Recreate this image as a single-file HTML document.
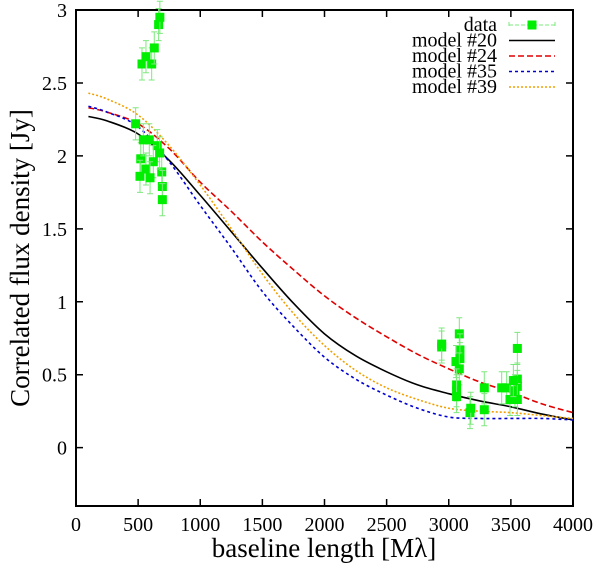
<!DOCTYPE html>
<html><head><meta charset="utf-8"><style>
body{margin:0;background:#fff}
svg text{font-family:"Liberation Serif",serif;fill:#000}
</style></head><body>
<svg id="chart" width="600" height="564" viewBox="0 0 600 564" xmlns="http://www.w3.org/2000/svg">
<g id="grid"></g><g id="curves"></g><g id="pts"></g><g id="legend"></g>
</svg>
<script>
const xTicks=[0,500,1000,1500,2000,2500,3000,3500,4000];
const yTicks=[0,0.5,1,1.5,2,2.5,3];
const yTickLabels=["0","0.5","1","1.5","2","2.5","3"];
const dataX=[531,563,609,630,665,675,480,590,654,521,622,563,515,596,690,695,695,542,673,2943,2943,3085,3090,3058,3090,3085,3063,3063,3063,3171,3177,3286,3286,3426,3466,3493,3552,3552,3552,3533,3552,3520];
const dataY=[2.63,2.68,2.63,2.74,2.90,2.95,2.22,2.11,2.07,1.98,1.96,1.91,1.86,1.85,1.89,1.79,1.70,2.11,2.02,0.69,0.71,0.78,0.67,0.59,0.61,0.54,0.43,0.39,0.35,0.24,0.27,0.41,0.26,0.41,0.41,0.33,0.68,0.47,0.42,0.39,0.33,0.46];
const modelX=[100,250,500,750,1000,1250,1500,1750,2000,2250,2500,2750,3000,3250,3500,3750,4000];
const m20=[2.27,2.24,2.15,1.97,1.73,1.48,1.23,0.99,0.78,0.63,0.52,0.43,0.37,0.32,0.28,0.23,0.19];
const m24=[2.33,2.30,2.22,2.05,1.82,1.62,1.41,1.22,1.04,0.89,0.76,0.64,0.54,0.45,0.38,0.30,0.24];
const m35=[2.34,2.30,2.20,1.96,1.66,1.37,1.07,0.83,0.62,0.47,0.36,0.27,0.21,0.20,0.20,0.20,0.19];
const m39=[2.43,2.39,2.28,2.07,1.80,1.50,1.19,0.92,0.70,0.53,0.41,0.33,0.27,0.25,0.24,0.22,0.20];
const NS="http://www.w3.org/2000/svg";
const L=76,R=573,T=10,B=506,XMIN=0,XMAX=4000,YMIN=-0.4,YMAX=3;
const sx=v=>L+(v-XMIN)/(XMAX-XMIN)*(R-L);
const sy=v=>B-(v-YMIN)/(YMAX-YMIN)*(B-T);
function mk(tag,attrs,parent){const e=document.createElementNS(NS,tag);for(const k in attrs)e.setAttribute(k,attrs[k]);parent.appendChild(e);return e;}
const g=document.getElementById('grid');
let f=mk('rect',{x:L,y:T,width:R-L,height:B-T,fill:'none',stroke:'#000','stroke-width':2},g);

xTicks.forEach(v=>{const x=sx(v);
 let t=mk('path',{d:`M${x} ${B}v-7M${x} ${T}v7`,stroke:'#000','stroke-width':1.5},g);
 
 let tx=mk('text',{x:x,y:B+25,'text-anchor':'middle','font-size':20},g);tx.textContent=v;
 });
yTicks.forEach((v,i)=>{const y=sy(v);
 let t=mk('path',{d:`M${L} ${y}h7M${R} ${y}h-7`,stroke:'#000','stroke-width':1.5},g);
 
 let tx=mk('text',{x:L-9,y:y+7,'text-anchor':'end','font-size':20},g);tx.textContent=yTickLabels[i];
 });
let xl=mk('text',{x:324,y:557,'text-anchor':'middle','font-size':27},g);xl.textContent='baseline length [Mλ]';

let yl=mk('text',{x:0,y:0,'text-anchor':'middle','font-size':27,transform:'translate(29,258) rotate(-90)'},g);yl.textContent='Correlated flux density [Jy]';

function smooth(xs,ys){const p=xs.map((x,i)=>[sx(x),sy(ys[i])]);let d=`M${p[0][0]} ${p[0][1]}`;
 for(let i=0;i<p.length-1;i++){const p0=p[Math.max(0,i-1)],p1=p[i],p2=p[i+1],p3=p[Math.min(p.length-1,i+2)];
 d+=`C${p1[0]+(p2[0]-p0[0])/6} ${p1[1]+(p2[1]-p0[1])/6} ${p2[0]-(p3[0]-p1[0])/6} ${p2[1]-(p3[1]-p1[1])/6} ${p2[0]} ${p2[1]}`;}return d;}
const cg=document.getElementById('curves');
const models=[[m20,'#000','none','model-20-line'],[m24,'#e00000','6 3','model-24-line'],[m35,'#0000d0','3 3','model-35-line'],[m39,'#f0a000','2 2','model-39-line']];
models.forEach(m=>{let p=mk('path',{d:smooth(modelX,m[0]),fill:'none',stroke:m[1],'stroke-width':1.6,'stroke-dasharray':m[2]},cg);
 });
const pg=document.getElementById('pts');
dataX.forEach((xv,i)=>{const x=sx(xv),y=sy(dataY[i]);const h=0.11*(B-T)/(YMAX-YMIN);
 let eb=mk('path',{d:`M${x} ${y-h}V${y+h}M${x-3} ${y-h}h6M${x-3} ${y+h}h6M${x-3} ${y}h6`,stroke:'#7ee87e','stroke-width':1},pg);
 
 let s=mk('rect',{x:x-4.5,y:y-4.5,width:9,height:9,fill:'#00ee00'},pg);
 });
const lg=document.getElementById('legend');
const items=[['data',null],['model #20',models[0]],['model #24',models[1]],['model #35',models[2]],['model #39',models[3]]];
items.forEach((it,i)=>{const y=25+i*15.5;
 let t=mk('text',{x:497,y:y+6,'text-anchor':'end','font-size':20},lg);t.textContent=it[0];
 
 if(!it[1]){let l=mk('path',{d:`M509 ${y}H555M509 ${y-3}v6M555 ${y-3}v6`,stroke:'#7ee87e','stroke-width':1,'stroke-dasharray':'4 2'},lg);
  
  let s=mk('rect',{x:527.5,y:y-4.5,width:9,height:9,fill:'#00ee00'},lg);
  }
 else{let l=mk('path',{d:`M509 ${y}H555`,stroke:it[1][1],'stroke-width':1.6,'stroke-dasharray':it[1][2]},lg);
  }});
</script>
</body></html>
